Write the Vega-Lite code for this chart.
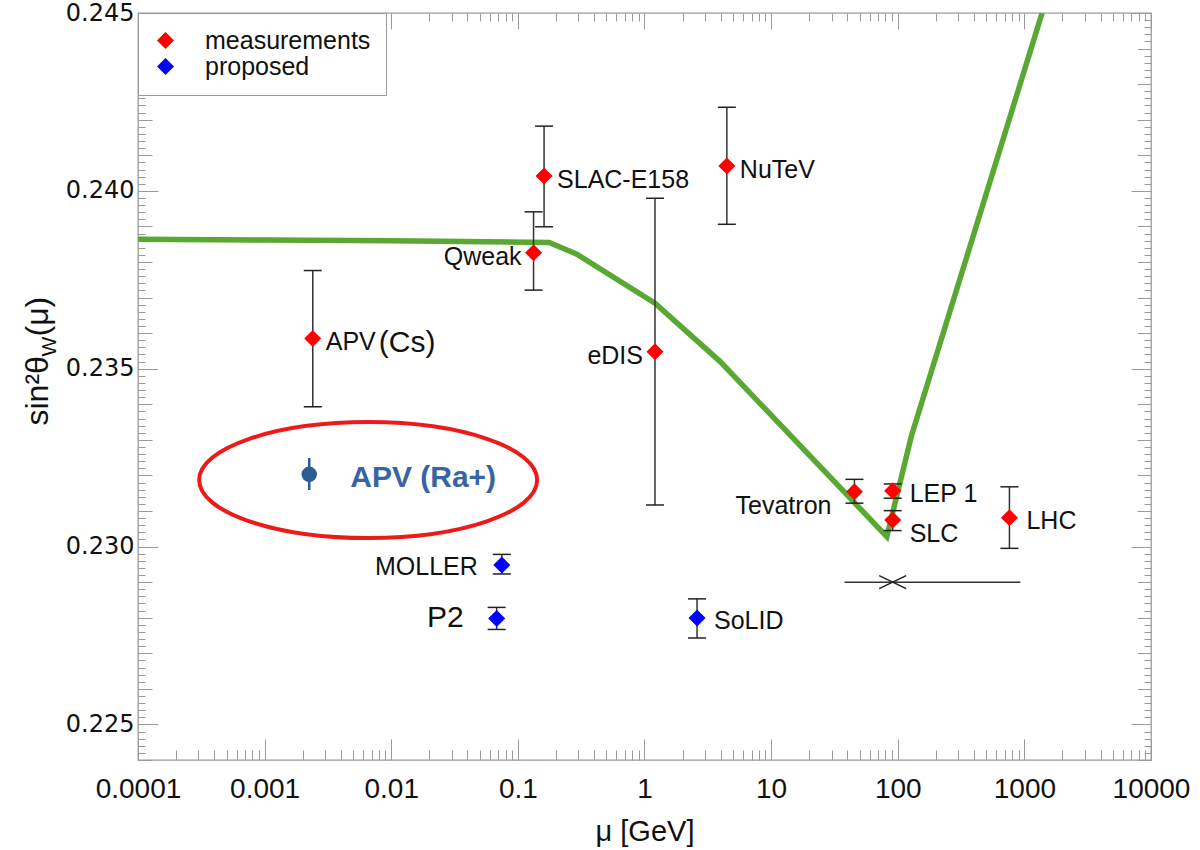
{
  "$schema": "https://vega.github.io/schema/vega-lite/v6.json",
  "width": 1013,
  "height": 747,
  "autosize": {"type": "none"},
  "padding": {"left": 138, "top": 13, "right": 49, "bottom": 90},
  "background": "white",
  "config": {
    "view": {"stroke": "#9a9a9a", "strokeWidth": 1.3},
    "axis": {"domain": false, "grid": false, "tickColor": "#9a9a9a", "tickWidth": 1, "labelFlush": false, "labelOverlap": false, "labelBound": false}
  },
  "datasets": {
    "curve": [
      {"mu": 0.0001, "s2w": 0.23864},
      {"mu": 0.001, "s2w": 0.23862},
      {"mu": 0.01, "s2w": 0.2386},
      {"mu": 0.177, "s2w": 0.23855},
      {"mu": 0.292, "s2w": 0.23822},
      {"mu": 1.21, "s2w": 0.23684},
      {"mu": 3.96, "s2w": 0.2352},
      {"mu": 82, "s2w": 0.23028},
      {"mu": 128, "s2w": 0.2331},
      {"mu": 1380, "s2w": 0.245}
    ],
    "exp": [
      {"name": "APV", "mu": 0.0024, "s2w": 0.23585, "lo": 0.23393, "hi": 0.23776, "type": "measurements"},
      {"name": "Qweak", "mu": 0.133, "s2w": 0.23826, "lo": 0.23721, "hi": 0.23941, "type": "measurements"},
      {"name": "SLAC-E158", "mu": 0.161, "s2w": 0.24042, "lo": 0.23899, "hi": 0.24182, "type": "measurements"},
      {"name": "eDIS", "mu": 1.21, "s2w": 0.23548, "lo": 0.23117, "hi": 0.23979, "type": "measurements"},
      {"name": "NuTeV", "mu": 4.47, "s2w": 0.2407, "lo": 0.23906, "hi": 0.24235, "type": "measurements"},
      {"name": "Tevatron", "mu": 45.5, "s2w": 0.23154, "lo": 0.23122, "hi": 0.23189, "type": "measurements"},
      {"name": "LEP 1", "mu": 91.2, "s2w": 0.23157, "lo": 0.23136, "hi": 0.23176, "type": "measurements"},
      {"name": "SLC", "mu": 91.2, "s2w": 0.23075, "lo": 0.23045, "hi": 0.23101, "type": "measurements"},
      {"name": "LHC", "mu": 762, "s2w": 0.23081, "lo": 0.22995, "hi": 0.23168, "type": "measurements"},
      {"name": "MOLLER", "mu": 0.0747, "s2w": 0.22948, "lo": 0.22923, "hi": 0.22978, "type": "proposed"},
      {"name": "P2", "mu": 0.068, "s2w": 0.22798, "lo": 0.22767, "hi": 0.22829, "type": "proposed"},
      {"name": "SoLID", "mu": 2.6, "s2w": 0.22799, "lo": 0.22743, "hi": 0.22853, "type": "proposed"}
    ],
    "ra": [
      {"name": "APV (Ra+)", "mu": 0.00225, "s2w": 0.23203, "lo": 0.23159, "hi": 0.23249}
    ],
    "zrange": [
      {"mu": 91.2, "mu_lo": 38, "mu_hi": 930, "s2w": 0.229}
    ],
    "ring": [
      {"mu": 0.00657, "s2w": 0.23187}
    ]
  },
  "resolve": {"axis": {"x": "independent", "y": "independent"}},
  "layer": [
    {
      "data": {"name": "curve"},
      "mark": {"type": "line", "color": "#58a832", "strokeWidth": 5.5, "clip": true, "strokeJoin": "miter"},
      "encoding": {
        "x": {"field": "mu", "type": "quantitative",
          "scale": {"type": "log", "domain": [0.0001, 10000], "nice": false},
          "axis": {"orient": "bottom", "values": [0.0001, 0.001, 0.01, 0.1, 1, 10, 100, 1000, 10000], "format": "~g",
            "ticks": false, "tickSize": 0, "labelPadding": 15, "labelFont": "Liberation Sans", "labelFontSize": 28, "labelColor": "#111",
            "title": "μ  [GeV]", "titleFont": "Liberation Sans", "titleFontSize": 29, "titleFontWeight": "normal", "titleColor": "#111",
            "titleY": 80, "titleBaseline": "alphabetic"}},
        "y": {"field": "s2w", "type": "quantitative",
          "scale": {"domain": [0.224, 0.245], "nice": false, "zero": false},
          "axis": {"orient": "left", "values": [0.225, 0.23, 0.235, 0.24, 0.245], "format": ".3f",
            "ticks": false, "tickSize": 0, "labelPadding": 4, "labelFont": "DejaVu Sans", "labelFontSize": 24, "labelColor": "#111",
            "title": "sin²θ", "titleFont": "Liberation Sans", "titleFontSize": 32, "titleFontWeight": "normal", "titleColor": "#111",
            "titleAngle": 270, "titleAlign": "left", "titleBaseline": "alphabetic", "titleX": -91, "titleY": 412}}
      }
    },
    {
      "data": {"name": "exp"},
      "mark": {"type": "rule", "color": "#333", "strokeWidth": 1.5},
      "encoding": {
        "x": {"field": "mu", "type": "quantitative",
          "scale": {"type": "log", "domain": [0.0001, 10000], "nice": false},
          "axis": {"orient": "bottom", "values": [0.0001, 0.001, 0.01, 0.1, 1, 10, 100, 1000, 10000], "labels": false, "tickSize": -21, "title": null}},
        "y": {"field": "lo", "type": "quantitative",
          "scale": {"domain": [0.224, 0.245], "nice": false, "zero": false},
          "axis": {"orient": "left", "values": [0.225, 0.23, 0.235, 0.24, 0.245], "labels": false, "tickSize": -20,
            "title": "W", "titleFont": "Liberation Sans", "titleFontSize": 21, "titleFontWeight": "normal", "titleColor": "#111",
            "titleAngle": 270, "titleAlign": "left", "titleBaseline": "alphabetic", "titleX": -83, "titleY": 343}},
        "y2": {"field": "hi"}
      }
    },
    {
      "data": {"name": "exp"},
      "transform": [{"fold": ["lo", "hi"], "as": ["end", "value"]}],
      "mark": {"type": "tick", "orient": "horizontal", "color": "#222", "size": 18, "thickness": 1.5, "opacity": 1},
      "encoding": {
        "x": {"field": "mu", "type": "quantitative",
          "scale": {"type": "log", "domain": [0.0001, 10000], "nice": false},
          "axis": {"orient": "bottom", "values": [0.0002, 0.0003, 0.0004, 0.0005, 0.0006, 0.0007, 0.0008, 0.0009, 0.002, 0.003, 0.004, 0.005, 0.006, 0.007, 0.008, 0.009, 0.02, 0.03, 0.04, 0.05, 0.06, 0.07, 0.08, 0.09, 0.2, 0.3, 0.4, 0.5, 0.6, 0.7, 0.8, 0.9, 2, 3, 4, 5, 6, 7, 8, 9, 20, 30, 40, 50, 60, 70, 80, 90, 200, 300, 400, 500, 600, 700, 800, 900, 2000, 3000, 4000, 5000, 6000, 7000, 8000, 9000], "labels": false, "tickSize": -10, "title": null}},
        "y": {"field": "value", "type": "quantitative",
          "scale": {"domain": [0.224, 0.245], "nice": false, "zero": false},
          "axis": {"orient": "left", "values": [0.224, 0.225, 0.226, 0.227, 0.228, 0.229, 0.23, 0.231, 0.232, 0.233, 0.234, 0.235, 0.236, 0.237, 0.238, 0.239, 0.24, 0.241, 0.242, 0.243, 0.244, 0.245], "labels": false, "tickSize": -14,
            "title": "(μ)", "titleFont": "Liberation Sans", "titleFontSize": 32, "titleFontWeight": "normal", "titleColor": "#111",
            "titleAngle": 270, "titleAlign": "left", "titleBaseline": "alphabetic", "titleX": -91, "titleY": 323}}
      }
    },
    {
      "data": {"name": "zrange"},
      "mark": {"type": "rule", "color": "#333", "strokeWidth": 1.5},
      "encoding": {
        "x": {"field": "mu_lo", "type": "quantitative",
          "scale": {"type": "log", "domain": [0.0001, 10000], "nice": false},
          "axis": {"orient": "top", "values": [0.0001, 0.001, 0.01, 0.1, 1, 10, 100, 1000, 10000], "labels": false, "tickSize": -16, "title": null}},
        "x2": {"field": "mu_hi"},
        "y": {"field": "s2w", "type": "quantitative",
          "scale": {"domain": [0.224, 0.245], "nice": false, "zero": false},
          "axis": {"orient": "left", "tickCount": 105, "labels": false, "tickSize": -7, "title": null}}
      }
    },
    {
      "data": {"name": "zrange"},
      "mark": {"type": "point", "shape": "M-1,-0.48L1,0.48M-1,0.48L1,-0.48", "size": 729, "filled": false, "color": "#222", "strokeWidth": 1.5, "opacity": 1},
      "encoding": {
        "x": {"field": "mu", "type": "quantitative",
          "scale": {"type": "log", "domain": [0.0001, 10000], "nice": false},
          "axis": {"orient": "top", "values": [0.0002, 0.0003, 0.0004, 0.0005, 0.0006, 0.0007, 0.0008, 0.0009, 0.002, 0.003, 0.004, 0.005, 0.006, 0.007, 0.008, 0.009, 0.02, 0.03, 0.04, 0.05, 0.06, 0.07, 0.08, 0.09, 0.2, 0.3, 0.4, 0.5, 0.6, 0.7, 0.8, 0.9, 2, 3, 4, 5, 6, 7, 8, 9, 20, 30, 40, 50, 60, 70, 80, 90, 200, 300, 400, 500, 600, 700, 800, 900, 2000, 3000, 4000, 5000, 6000, 7000, 8000, 9000], "labels": false, "tickSize": -8, "title": null}},
        "y": {"field": "s2w", "type": "quantitative",
          "scale": {"domain": [0.224, 0.245], "nice": false, "zero": false},
          "axis": {"orient": "right", "values": [0.225, 0.23, 0.235, 0.24, 0.245], "labels": false, "tickSize": -20, "title": null}}
      }
    },
    {
      "data": {"name": "ring"},
      "mark": {"type": "point", "shape": "M-1,0C-1,-0.1894,-0.5523,-0.343,0,-0.343C0.5523,-0.343,1,-0.1894,1,0C1,0.1894,0.5523,0.343,0,0.343C-0.5523,0.343,-1,0.1894,-1,0Z", "size": 114244, "filled": false, "color": "#ee1a1a", "strokeWidth": 4, "opacity": 1},
      "encoding": {
        "x": {"field": "mu", "type": "quantitative", "scale": {"type": "log", "domain": [0.0001, 10000], "nice": false}, "axis": null},
        "y": {"field": "s2w", "type": "quantitative",
          "scale": {"domain": [0.224, 0.245], "nice": false, "zero": false},
          "axis": {"orient": "right", "values": [0.224, 0.225, 0.226, 0.227, 0.228, 0.229, 0.23, 0.231, 0.232, 0.233, 0.234, 0.235, 0.236, 0.237, 0.238, 0.239, 0.24, 0.241, 0.242, 0.243, 0.244, 0.245], "labels": false, "tickSize": -14, "title": null}}
      }
    },
    {
      "data": {"name": "ra"},
      "mark": {"type": "rule", "color": "#2d5b94", "strokeWidth": 2.5},
      "encoding": {
        "x": {"field": "mu", "type": "quantitative", "scale": {"type": "log", "domain": [0.0001, 10000], "nice": false}, "axis": null},
        "y": {"field": "lo", "type": "quantitative",
          "scale": {"domain": [0.224, 0.245], "nice": false, "zero": false},
          "axis": {"orient": "right", "tickCount": 105, "labels": false, "tickSize": -7, "title": null}},
        "y2": {"field": "hi"}
      }
    },
    {
      "data": {"name": "ra"},
      "mark": {"type": "point", "shape": "circle", "filled": true, "size": 240, "color": "#2d5b94", "opacity": 1},
      "encoding": {
        "x": {"field": "mu", "type": "quantitative", "scale": {"type": "log", "domain": [0.0001, 10000], "nice": false}, "axis": null},
        "y": {"field": "s2w", "type": "quantitative", "scale": {"domain": [0.224, 0.245], "nice": false, "zero": false}, "axis": null}
      }
    },
    {
      "data": {"name": "exp"},
      "mark": {"type": "point", "shape": "diamond", "filled": true, "size": 290, "opacity": 1, "strokeWidth": 0},
      "encoding": {
        "x": {"field": "mu", "type": "quantitative", "scale": {"type": "log", "domain": [0.0001, 10000], "nice": false}, "axis": null},
        "y": {"field": "s2w", "type": "quantitative", "scale": {"domain": [0.224, 0.245], "nice": false, "zero": false}, "axis": null},
        "color": {"field": "type", "type": "nominal",
          "scale": {"domain": ["measurements", "proposed"], "range": ["#ff0000", "#0000ff"]},
          "legend": {"title": null, "orient": "top-left", "offset": 0, "padding": 15, "strokeColor": "#9a9a9a", "fillColor": "white",
            "symbolType": "diamond", "symbolSize": 290, "symbolStrokeWidth": 0, "symbolOffset": 0, "labelOffset": 27, "labelLimit": 400,
            "labelFont": "Liberation Sans", "labelFontSize": 25, "labelColor": "#111", "rowPadding": -3}}
      }
    },
    {
      "data": {"name": "exp"},
      "transform": [{"filter": {"field": "name", "oneOf": ["APV", "SLAC-E158", "NuTeV"]}}],
      "mark": {"type": "text", "font": "Liberation Sans", "fontSize": 25, "color": "#111", "align": "left", "baseline": "middle", "dx": 13, "dy": 4},
      "encoding": {
        "x": {"field": "mu", "type": "quantitative", "scale": {"type": "log", "domain": [0.0001, 10000], "nice": false}, "axis": null},
        "y": {"field": "s2w", "type": "quantitative", "scale": {"domain": [0.224, 0.245], "nice": false, "zero": false}, "axis": null},
        "text": {"field": "name"}
      }
    },
    {
      "data": {"name": "exp"},
      "transform": [{"filter": {"field": "name", "oneOf": ["LEP 1", "LHC", "SoLID"]}}],
      "mark": {"type": "text", "font": "Liberation Sans", "fontSize": 25, "color": "#111", "align": "left", "baseline": "middle", "dx": 17, "dy": 3},
      "encoding": {
        "x": {"field": "mu", "type": "quantitative", "scale": {"type": "log", "domain": [0.0001, 10000], "nice": false}, "axis": null},
        "y": {"field": "s2w", "type": "quantitative", "scale": {"domain": [0.224, 0.245], "nice": false, "zero": false}, "axis": null},
        "text": {"field": "name"}
      }
    },
    {
      "data": {"name": "exp"},
      "transform": [{"filter": {"field": "name", "oneOf": ["SLC"]}}],
      "mark": {"type": "text", "font": "Liberation Sans", "fontSize": 25, "color": "#111", "align": "left", "baseline": "middle", "dx": 17, "dy": 14},
      "encoding": {
        "x": {"field": "mu", "type": "quantitative", "scale": {"type": "log", "domain": [0.0001, 10000], "nice": false}, "axis": null},
        "y": {"field": "s2w", "type": "quantitative", "scale": {"domain": [0.224, 0.245], "nice": false, "zero": false}, "axis": null},
        "text": {"field": "name"}
      }
    },
    {
      "data": {"name": "exp"},
      "transform": [{"filter": {"field": "name", "oneOf": ["Qweak", "eDIS"]}}],
      "mark": {"type": "text", "font": "Liberation Sans", "fontSize": 25, "color": "#111", "align": "right", "baseline": "middle", "dx": -12, "dy": 4},
      "encoding": {
        "x": {"field": "mu", "type": "quantitative", "scale": {"type": "log", "domain": [0.0001, 10000], "nice": false}, "axis": null},
        "y": {"field": "s2w", "type": "quantitative", "scale": {"domain": [0.224, 0.245], "nice": false, "zero": false}, "axis": null},
        "text": {"field": "name"}
      }
    },
    {
      "data": {"name": "exp"},
      "transform": [{"filter": {"field": "name", "oneOf": ["Tevatron"]}}],
      "mark": {"type": "text", "font": "Liberation Sans", "fontSize": 25, "color": "#111", "align": "right", "baseline": "middle", "dx": -23, "dy": 14},
      "encoding": {
        "x": {"field": "mu", "type": "quantitative", "scale": {"type": "log", "domain": [0.0001, 10000], "nice": false}, "axis": null},
        "y": {"field": "s2w", "type": "quantitative", "scale": {"domain": [0.224, 0.245], "nice": false, "zero": false}, "axis": null},
        "text": {"field": "name"}
      }
    },
    {
      "data": {"name": "exp"},
      "transform": [{"filter": {"field": "name", "oneOf": ["MOLLER"]}}],
      "mark": {"type": "text", "font": "Liberation Sans", "fontSize": 25, "color": "#111", "align": "right", "baseline": "middle", "dx": -24, "dy": 2},
      "encoding": {
        "x": {"field": "mu", "type": "quantitative", "scale": {"type": "log", "domain": [0.0001, 10000], "nice": false}, "axis": null},
        "y": {"field": "s2w", "type": "quantitative", "scale": {"domain": [0.224, 0.245], "nice": false, "zero": false}, "axis": null},
        "text": {"field": "name"}
      }
    },
    {
      "data": {"name": "exp"},
      "transform": [{"filter": {"field": "name", "oneOf": ["P2"]}}],
      "mark": {"type": "text", "font": "Liberation Sans", "fontSize": 30, "color": "#111", "align": "right", "baseline": "middle", "dx": -33, "dy": 0},
      "encoding": {
        "x": {"field": "mu", "type": "quantitative", "scale": {"type": "log", "domain": [0.0001, 10000], "nice": false}, "axis": null},
        "y": {"field": "s2w", "type": "quantitative", "scale": {"domain": [0.224, 0.245], "nice": false, "zero": false}, "axis": null},
        "text": {"field": "name"}
      }
    },
    {
      "data": {"name": "exp"},
      "transform": [{"filter": {"field": "name", "oneOf": ["APV"]}}],
      "mark": {"type": "text", "font": "Liberation Sans", "fontSize": 30, "color": "#111", "align": "left", "baseline": "middle", "dx": 66, "dy": 5},
      "encoding": {
        "x": {"field": "mu", "type": "quantitative", "scale": {"type": "log", "domain": [0.0001, 10000], "nice": false}, "axis": null},
        "y": {"field": "s2w", "type": "quantitative", "scale": {"domain": [0.224, 0.245], "nice": false, "zero": false}, "axis": null},
        "text": {"value": "(Cs)"}
      }
    },
    {
      "data": {"name": "ra"},
      "mark": {"type": "text", "font": "Liberation Sans", "fontSize": 30, "fontWeight": "bold", "color": "#3764a4", "align": "left", "baseline": "middle", "dx": 41, "dy": 4},
      "encoding": {
        "x": {"field": "mu", "type": "quantitative", "scale": {"type": "log", "domain": [0.0001, 10000], "nice": false}, "axis": null},
        "y": {"field": "s2w", "type": "quantitative", "scale": {"domain": [0.224, 0.245], "nice": false, "zero": false}, "axis": null},
        "text": {"field": "name"}
      }
    }
  ]
}
